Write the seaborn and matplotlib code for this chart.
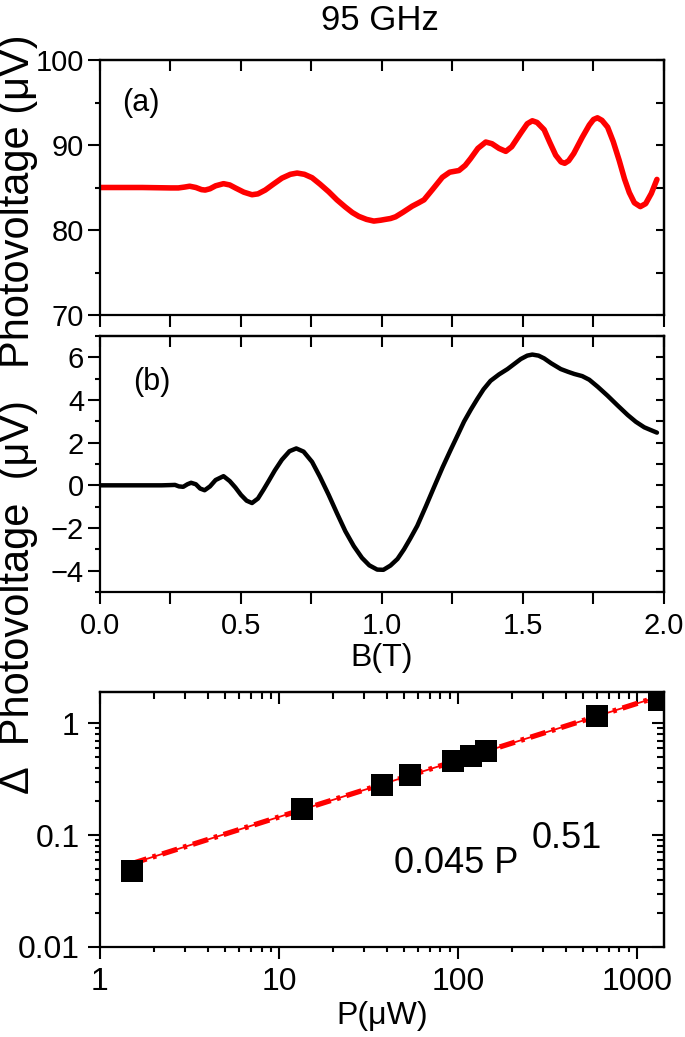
import numpy as np
import pandas as pd
import matplotlib
matplotlib.use("Agg")
import matplotlib.pyplot as plt
from matplotlib import font_manager
from matplotlib.ticker import MultipleLocator, LogLocator, NullFormatter, FixedLocator, FixedFormatter
import seaborn as sns

# (a) photovoltage vs B, 95 GHz
B_a = [0.0, 0.15, 0.25, 0.278, 0.30, 0.318, 0.34, 0.36, 0.373, 0.39, 0.41, 0.438,
       0.46, 0.48, 0.51, 0.539, 0.56, 0.586, 0.615, 0.645, 0.675, 0.699, 0.725,
       0.752, 0.78, 0.811, 0.84, 0.870, 0.895, 0.918, 0.945, 0.971, 0.995, 1.012,
       1.03, 1.048, 1.075, 1.107, 1.13, 1.149, 1.18, 1.214, 1.24, 1.273, 1.295,
       1.314, 1.34, 1.368, 1.39, 1.415, 1.439, 1.46, 1.492, 1.515, 1.533, 1.55,
       1.575, 1.595, 1.616, 1.635, 1.648, 1.662, 1.68, 1.71, 1.735, 1.75, 1.764,
       1.78, 1.80, 1.82, 1.841, 1.86, 1.877, 1.895, 1.916, 1.935, 1.955, 1.975]
V_a = [85.0, 85.0, 84.95, 84.95, 85.05, 85.15, 85.0, 84.75, 84.7, 84.85, 85.2, 85.45,
       85.3, 84.95, 84.45, 84.15, 84.25, 84.7, 85.4, 86.1, 86.55, 86.7, 86.55,
       86.15, 85.4, 84.5, 83.55, 82.7, 82.05, 81.6, 81.25, 81.05, 81.15, 81.25,
       81.35, 81.55, 82.1, 82.8, 83.2, 83.55, 84.8, 86.2, 86.8, 87.0, 87.6,
       88.4, 89.6, 90.35, 90.15, 89.6, 89.25, 89.8, 91.4, 92.5, 92.85, 92.65,
       91.8, 90.3, 88.8, 88.0, 87.85, 88.15, 89.0, 90.9, 92.35, 93.0, 93.2,
       92.9, 92.1, 90.4, 88.2, 86.0, 84.4, 83.2, 82.75, 83.1, 84.3, 85.95]

# (b) difference photovoltage vs B
B_b = [0.0, 0.15, 0.219, 0.245, 0.266, 0.280, 0.295, 0.31, 0.323, 0.34, 0.355, 0.371,
       0.39, 0.41, 0.438, 0.46, 0.48, 0.50, 0.52, 0.539, 0.56, 0.58, 0.598, 0.62,
       0.645, 0.672, 0.696, 0.722, 0.752, 0.78, 0.811, 0.84, 0.870, 0.90, 0.929,
       0.955, 0.983, 1.005, 1.030, 1.055, 1.078, 1.10, 1.125, 1.155, 1.184, 1.215,
       1.243, 1.27, 1.291, 1.315, 1.338, 1.36, 1.385, 1.415, 1.445, 1.47, 1.492,
       1.515, 1.533, 1.555, 1.575, 1.60, 1.634, 1.66, 1.682, 1.71, 1.735, 1.765,
       1.800, 1.835, 1.871, 1.90, 1.930, 1.955, 1.975]
V_b = [0.0, 0.0, 0.0, 0.01, 0.02, -0.05, -0.07, 0.05, 0.12, 0.05, -0.15, -0.23,
       -0.05, 0.25, 0.43, 0.2, -0.1, -0.45, -0.72, -0.83, -0.62, -0.2, 0.2, 0.7,
       1.2, 1.6, 1.73, 1.58, 1.1, 0.4, -0.45, -1.3, -2.15, -2.85, -3.4,
       -3.75, -3.95, -3.96, -3.76, -3.45, -3.0, -2.5, -1.9, -1.0, -0.1, 0.85,
       1.65, 2.4, 2.99, 3.55, 4.05, 4.5, 4.9, 5.2, 5.45, 5.7, 5.92,
       6.08, 6.13, 6.08, 5.95, 5.72, 5.45, 5.32, 5.22, 5.12, 4.95, 4.62,
       4.2, 3.75, 3.3, 2.98, 2.72, 2.58, 2.47]

# power dependence
P_uW = [1.5, 13.4, 37.6, 53.9, 94.5, 118, 144, 597, 1324]
dV = [0.048, 0.172, 0.281, 0.341, 0.461, 0.504, 0.570, 1.16, 1.62]
fit_P = [1.5, 1420]
fit_V = [0.0555, 1.79]

sns.set_style("ticks")
names = {f.name for f in font_manager.fontManager.ttflist}
main_font = ["Liberation Sans", "DejaVu Sans"]
narrow = ["Liberation Sans Narrow", "DejaVu Sans"] if "Liberation Sans Narrow" in names else main_font
plt.rcParams["font.family"] = main_font
plt.rcParams["axes.linewidth"] = 1.6
plt.rcParams["axes.edgecolor"] = "black"
plt.rcParams["text.color"] = "black"
plt.rcParams["axes.labelcolor"] = "black"
plt.rcParams["xtick.color"] = "black"
plt.rcParams["ytick.color"] = "black"

W, H = 685, 1037
fig = plt.figure(figsize=(W / 100, H / 100), dpi=100)


def box(left, top, right, bottom):
    return [left / W, 1 - bottom / H, (right - left) / W, (bottom - top) / H]


def dress(ax, xstep=None, ystep=None, log=False):
    # left / bottom ticks point out, top / right point in (Origin style)
    ax.tick_params(which="major", direction="out", length=8.5, width=1.5, top=False, right=False)
    ax.tick_params(which="minor", direction="out", length=3.6, width=1.5, top=False, right=False)
    top = ax.secondary_xaxis("top")
    right = ax.secondary_yaxis("right")
    if log:
        top.set_xscale("log")
        right.set_yscale("log")
        top.xaxis.set_major_locator(LogLocator(10))
        top.xaxis.set_minor_locator(LogLocator(10, subs=np.arange(2, 10)))
        right.yaxis.set_major_locator(LogLocator(10))
        right.yaxis.set_minor_locator(LogLocator(10, subs=np.arange(2, 10)))
        top.tick_params(which="major", direction="in", length=8.5, width=1.5)
        top.tick_params(which="minor", direction="in", length=5, width=1.5)
        right.tick_params(which="major", direction="in", length=8.5, width=1.5)
        right.tick_params(which="minor", direction="in", length=5, width=1.5)
    else:
        top.xaxis.set_major_locator(MultipleLocator(xstep))
        right.yaxis.set_major_locator(MultipleLocator(ystep))
        top.tick_params(direction="in", length=8, width=1.5)
        right.tick_params(direction="in", length=6, width=1.5)
    top.xaxis.set_major_formatter(NullFormatter())
    top.xaxis.set_minor_formatter(NullFormatter())
    right.yaxis.set_major_formatter(NullFormatter())
    right.yaxis.set_minor_formatter(NullFormatter())
    for s in ["top", "right"]:
        ax.spines[s].set_visible(True)
        ax.spines[s].set_linewidth(1.6)


# ---- (a) ----
ax1 = fig.add_axes(box(100, 60, 664, 315))
df_a = pd.DataFrame({"B": B_a, "V": V_a})
sns.lineplot(data=df_a, x="B", y="V", ax=ax1, color="#ff0000", lw=4,
             sort=False, estimator=None)
ax1.set_xlim(0, 2.0)
ax1.set_ylim(70, 100)
ax1.xaxis.set_major_locator(MultipleLocator(0.25))
ax1.yaxis.set_major_locator(MultipleLocator(10))
ax1.yaxis.set_minor_locator(MultipleLocator(5))
ax1.set_xticklabels([])
ax1.set_xlabel("")
ax1.set_ylabel("")
dress(ax1, 0.25, 5)
ax1.tick_params(axis="y", labelsize=21, pad=3)
ax1.text(0.04, 0.83, "(a)", transform=ax1.transAxes, fontsize=22, ha="left", va="center")

# ---- (b) ----
ax2 = fig.add_axes(box(100, 336, 664, 592))
df_b = pd.DataFrame({"B": B_b, "V": V_b})
sns.lineplot(data=df_b, x="B", y="V", ax=ax2, color="black", lw=3.2,
             sort=False, estimator=None)
ax2.set_xlim(0, 2.0)
ax2.set_ylim(-5, 7)
ax2.xaxis.set_major_locator(MultipleLocator(0.5))
ax2.xaxis.set_minor_locator(MultipleLocator(0.25))
ax2.yaxis.set_major_locator(MultipleLocator(2))
ax2.yaxis.set_minor_locator(MultipleLocator(1))
dress(ax2, 0.25, 1)
ax2.tick_params(axis="x", which="minor", length=8.5)
ax2.tick_params(axis="y", labelsize=21, pad=3)
ax2.tick_params(axis="x", labelsize=21, pad=6)
for t in ax2.get_xticklabels():
    t.set_family(narrow)
ax2.set_xlabel("B(T)", fontsize=23, family=narrow, labelpad=2)
ax2.set_ylabel("")
ax2.text(0.058, 0.82, "(b)", transform=ax2.transAxes, fontsize=22, ha="left", va="center")

# ---- power dependence ----
ax3 = fig.add_axes(box(100, 692, 664, 947))
ax3.set_xscale("log")
ax3.set_yscale("log")
df_fit = pd.DataFrame({"P": fit_P, "V": fit_V})
sns.lineplot(data=df_fit, x="P", y="V", ax=ax3, color="#ff0000", lw=1.3,
             sort=False, estimator=None)
sns.lineplot(data=df_fit, x="P", y="V", ax=ax3, color="#ff0000", lw=3.8,
             linestyle=(0, (3, 1.2, 0.7, 1.2)), sort=False, estimator=None)
df_p = pd.DataFrame({"P": P_uW, "V": dV})
sns.scatterplot(data=df_p, x="P", y="V", ax=ax3, marker="s", s=245, color="black",
                edgecolor="black", linewidth=0, zorder=3, clip_on=True)
ax3.set_xlim(1, 1420)
ax3.set_ylim(0.01, 1.9)
ax3.xaxis.set_minor_locator(LogLocator(10, subs=np.arange(2, 10)))
ax3.yaxis.set_minor_locator(LogLocator(10, subs=np.arange(2, 10)))
ax3.xaxis.set_minor_formatter(NullFormatter())
ax3.yaxis.set_minor_formatter(NullFormatter())
ax3.xaxis.set_major_locator(FixedLocator([1, 10, 100, 1000]))
ax3.xaxis.set_major_formatter(FixedFormatter(["1", "10", "100", "1000"]))
ax3.yaxis.set_major_locator(FixedLocator([0.01, 0.1, 1]))
ax3.yaxis.set_major_formatter(FixedFormatter(["0.01", "0.1", "1"]))
dress(ax3, log=True)
ax3.tick_params(labelsize=23, pad=6)
for t in ax3.get_xticklabels() + ax3.get_yticklabels():
    t.set_family(narrow)
ax3.set_xlabel("P(μW)", fontsize=23, family=narrow, labelpad=3)
ax3.set_ylabel("")
ax3.text(394 / W, 1 - 873 / H, "0.045 P", transform=fig.transFigure, fontsize=26,
         family=narrow, ha="left", va="baseline")
ax3.text(532 / W, 1 - 848 / H, "0.51", transform=fig.transFigure, fontsize=26,
         family=narrow, ha="left", va="baseline")

# shared labels on the left
fig.text(380 / W, 1 - 20 / H, "95 GHz", fontsize=25, ha="center", va="center")
fig.text(18 / W, 1 - 201 / H, "Photovoltage (μV)", fontsize=30, rotation=90,
         ha="center", va="center")
fig.text(18 / W, 1 - 597 / H, "Δ  Photovoltage  (μV)", fontsize=30, rotation=90,
         ha="center", va="center")

fig.savefig("out.png", dpi=100)
